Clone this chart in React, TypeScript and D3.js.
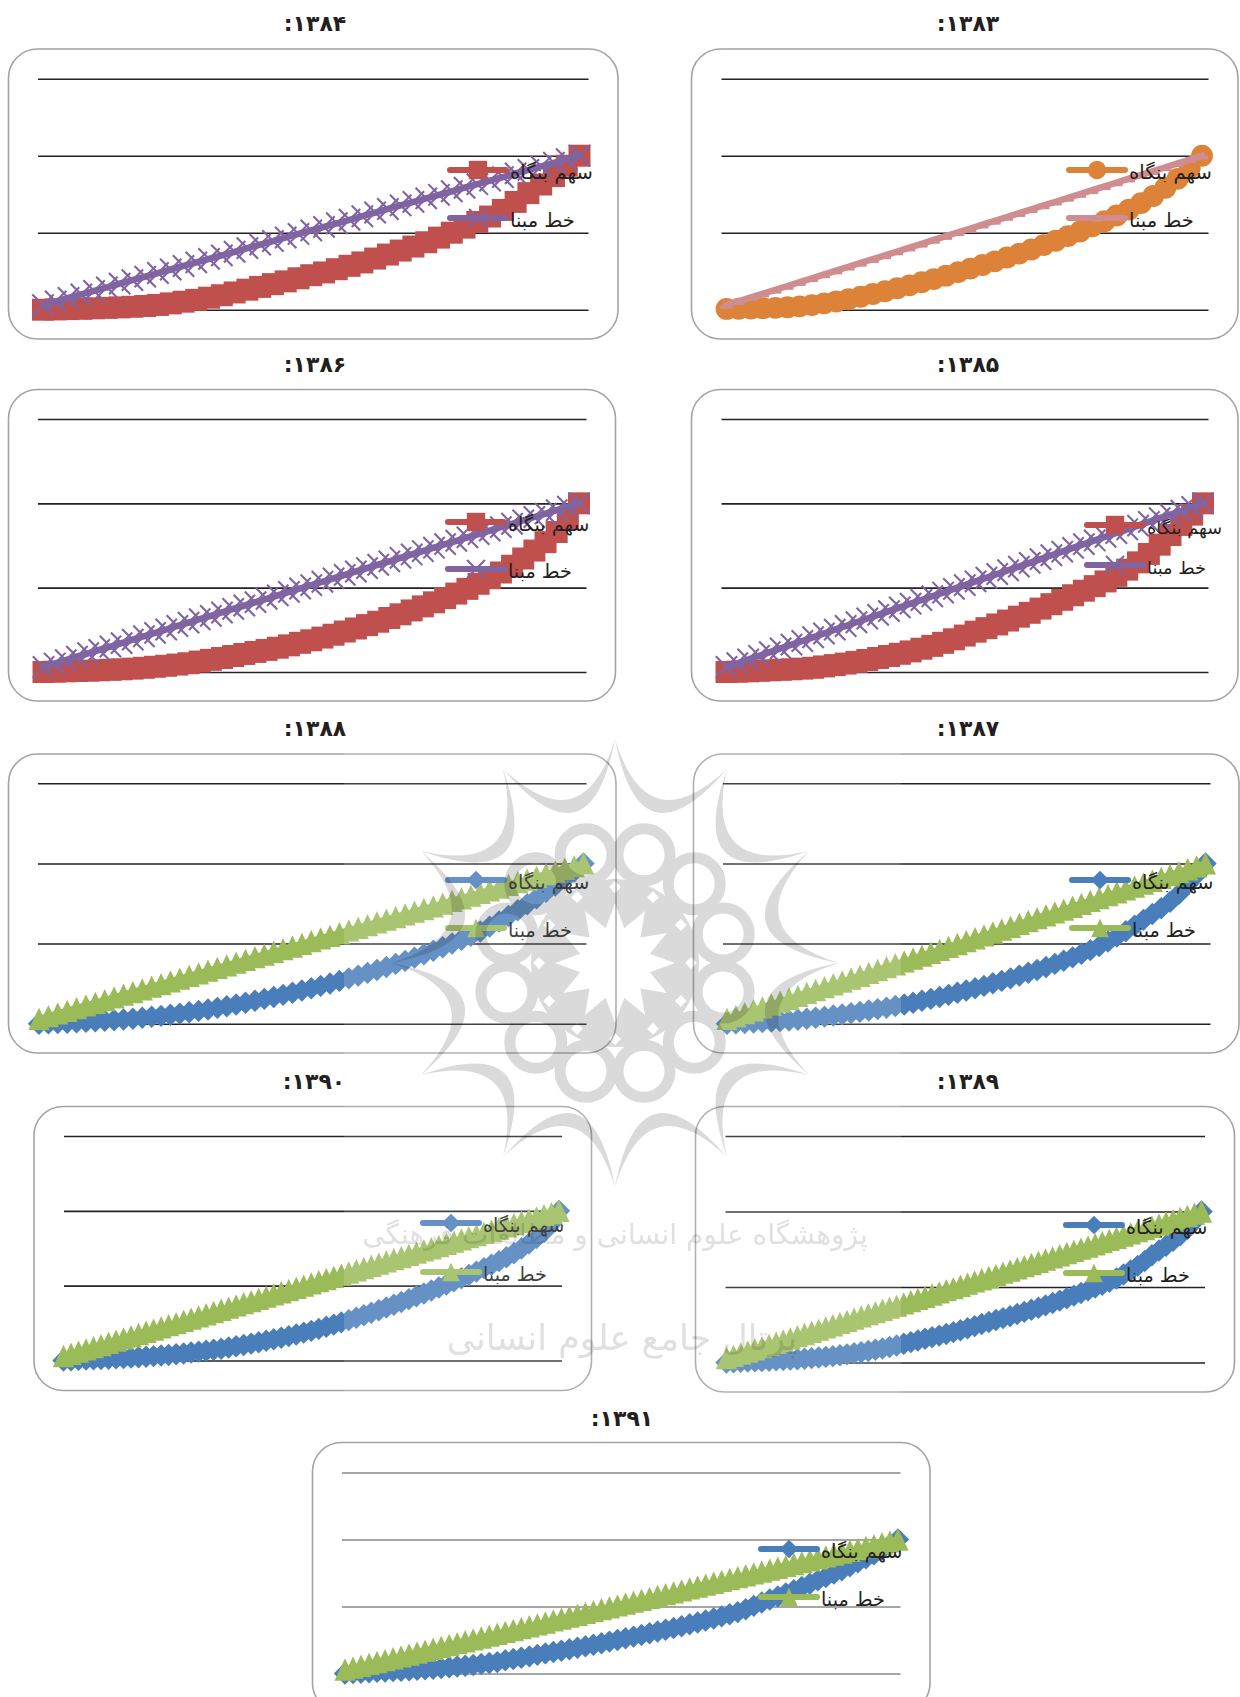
import React, { useRef, useEffect } from "react";
import * as d3 from "d3";

const seriesNames = ["سهم بنگاه", "خط مبنا"];
const gridValues = [0, 0.5, 1, 1.5];
const wmLines = ["پژوهشگاه علوم انسانی و مطالعات فرهنگی", "پرتال جامع علوم انسانی"];

const share1383 = [0.005,0.006,0.008,0.01,0.012,0.016,0.022,0.03,0.041,0.053,0.068,0.084,0.102,0.12,0.139,0.158,0.178,0.199,0.221,0.244,0.267,0.29,0.314,0.339,0.364,0.391,0.419,0.448,0.478,0.508,0.541,0.575,0.612,0.65,0.692,0.738,0.792,0.85,0.92,1];
const base1383 = [0.03,0.055,0.08,0.105,0.129,0.154,0.179,0.204,0.229,0.254,0.279,0.304,0.328,0.353,0.378,0.403,0.428,0.453,0.478,0.503,0.527,0.552,0.577,0.602,0.627,0.652,0.677,0.701,0.726,0.751,0.776,0.801,0.826,0.851,0.876,0.9,0.925,0.95,0.975,1];

const share1384 = [0,0.002,0.004,0.006,0.009,0.012,0.015,0.019,0.024,0.031,0.041,0.052,0.064,0.078,0.094,0.112,0.13,0.148,0.166,0.184,0.204,0.224,0.242,0.263,0.285,0.307,0.332,0.358,0.384,0.41,0.438,0.468,0.5,0.533,0.57,0.605,0.648,0.7,0.757,0.813,0.868,0.935,1];
const base1384 = [0.03,0.053,0.076,0.099,0.122,0.145,0.169,0.192,0.215,0.238,0.261,0.284,0.307,0.33,0.353,0.376,0.4,0.423,0.446,0.469,0.492,0.515,0.538,0.561,0.584,0.607,0.631,0.654,0.677,0.7,0.723,0.746,0.769,0.792,0.815,0.838,0.861,0.885,0.908,0.931,0.954,0.977,1];

const share1385 = [0,0.002,0.004,0.007,0.01,0.013,0.016,0.02,0.025,0.033,0.041,0.05,0.06,0.071,0.083,0.095,0.108,0.122,0.138,0.155,0.173,0.194,0.216,0.239,0.26,0.282,0.305,0.328,0.351,0.376,0.402,0.428,0.455,0.482,0.509,0.537,0.57,0.607,0.65,0.7,0.755,0.812,0.872,0.933,1];
const base1385 = [0.03,0.052,0.074,0.096,0.118,0.14,0.162,0.184,0.206,0.228,0.251,0.273,0.295,0.317,0.339,0.361,0.383,0.405,0.427,0.449,0.471,0.493,0.515,0.537,0.559,0.581,0.603,0.625,0.647,0.669,0.692,0.714,0.736,0.758,0.78,0.802,0.824,0.846,0.868,0.89,0.912,0.934,0.956,0.978,1];

const share1386 = [0,0.002,0.004,0.006,0.008,0.01,0.013,0.016,0.02,0.025,0.031,0.037,0.044,0.052,0.062,0.072,0.083,0.095,0.107,0.119,0.131,0.144,0.158,0.173,0.188,0.204,0.221,0.24,0.258,0.278,0.298,0.32,0.342,0.365,0.389,0.413,0.438,0.465,0.493,0.523,0.556,0.59,0.63,0.673,0.72,0.77,0.83,0.91,1];
const base1386 = [0.03,0.05,0.07,0.091,0.111,0.131,0.151,0.171,0.192,0.212,0.232,0.252,0.273,0.293,0.313,0.333,0.353,0.374,0.394,0.414,0.434,0.454,0.475,0.495,0.515,0.535,0.555,0.576,0.596,0.616,0.636,0.656,0.677,0.697,0.717,0.737,0.758,0.778,0.798,0.818,0.838,0.859,0.879,0.899,0.919,0.939,0.96,0.98,1];

const share1387 = [0,0.002,0.004,0.007,0.01,0.013,0.016,0.02,0.025,0.031,0.037,0.044,0.051,0.058,0.066,0.074,0.082,0.091,0.1,0.11,0.12,0.131,0.143,0.155,0.167,0.18,0.193,0.207,0.221,0.236,0.252,0.267,0.283,0.3,0.318,0.335,0.354,0.373,0.393,0.414,0.436,0.459,0.484,0.513,0.544,0.577,0.612,0.648,0.684,0.72,0.76,0.81,0.87,0.93,1];
const base1387 = [0.03,0.048,0.066,0.084,0.102,0.12,0.138,0.156,0.174,0.192,0.21,0.228,0.246,0.263,0.281,0.299,0.317,0.335,0.353,0.371,0.389,0.407,0.425,0.443,0.461,0.479,0.497,0.515,0.533,0.551,0.569,0.587,0.605,0.623,0.641,0.659,0.677,0.695,0.712,0.73,0.748,0.766,0.784,0.802,0.82,0.838,0.856,0.874,0.892,0.91,0.928,0.946,0.964,0.982,1];

const share1388 = [0,0.002,0.004,0.006,0.009,0.012,0.015,0.018,0.022,0.026,0.031,0.037,0.043,0.049,0.056,0.063,0.071,0.08,0.089,0.099,0.109,0.12,0.131,0.143,0.155,0.167,0.18,0.193,0.207,0.221,0.236,0.251,0.267,0.283,0.3,0.317,0.335,0.354,0.373,0.392,0.412,0.433,0.455,0.477,0.5,0.524,0.549,0.575,0.606,0.638,0.672,0.708,0.745,0.783,0.823,0.862,0.905,0.95,1];
const base1388 = [0.03,0.047,0.064,0.08,0.097,0.114,0.13,0.147,0.164,0.181,0.197,0.214,0.231,0.247,0.264,0.281,0.298,0.314,0.331,0.348,0.364,0.381,0.398,0.415,0.431,0.448,0.465,0.482,0.498,0.515,0.532,0.548,0.565,0.582,0.599,0.615,0.632,0.649,0.666,0.682,0.699,0.716,0.732,0.749,0.766,0.783,0.799,0.816,0.833,0.849,0.866,0.883,0.9,0.916,0.933,0.95,0.967,0.983,1];

const share1389 = [0,0.002,0.004,0.006,0.008,0.01,0.012,0.014,0.016,0.019,0.022,0.025,0.029,0.033,0.037,0.042,0.048,0.054,0.061,0.068,0.076,0.084,0.093,0.103,0.113,0.124,0.135,0.146,0.157,0.168,0.178,0.189,0.201,0.214,0.227,0.241,0.255,0.268,0.281,0.294,0.307,0.321,0.335,0.349,0.363,0.378,0.394,0.41,0.426,0.443,0.46,0.478,0.496,0.515,0.535,0.556,0.583,0.61,0.64,0.672,0.71,0.742,0.773,0.806,0.843,0.885,0.935,1];
const base1389 = [0.03,0.044,0.059,0.073,0.088,0.102,0.117,0.131,0.146,0.16,0.175,0.189,0.204,0.218,0.233,0.247,0.262,0.276,0.291,0.305,0.32,0.334,0.349,0.363,0.377,0.392,0.406,0.421,0.435,0.45,0.464,0.479,0.493,0.508,0.522,0.537,0.551,0.566,0.58,0.595,0.609,0.624,0.638,0.652,0.667,0.682,0.696,0.71,0.725,0.739,0.754,0.768,0.783,0.797,0.812,0.826,0.841,0.855,0.87,0.884,0.899,0.913,0.928,0.942,0.957,0.971,0.986,1];

const share1390 = [0,0.002,0.004,0.006,0.008,0.01,0.012,0.014,0.016,0.019,0.022,0.025,0.029,0.033,0.037,0.042,0.047,0.053,0.059,0.065,0.072,0.079,0.087,0.095,0.104,0.113,0.122,0.132,0.142,0.152,0.163,0.174,0.186,0.198,0.211,0.225,0.24,0.255,0.27,0.286,0.302,0.319,0.336,0.354,0.372,0.391,0.41,0.429,0.448,0.468,0.488,0.508,0.529,0.55,0.572,0.594,0.617,0.64,0.664,0.69,0.717,0.748,0.781,0.818,0.86,0.915,1];
const base1390 = [0.03,0.045,0.059,0.074,0.089,0.103,0.118,0.133,0.148,0.162,0.177,0.192,0.206,0.221,0.236,0.25,0.265,0.28,0.295,0.309,0.324,0.339,0.353,0.368,0.383,0.397,0.412,0.427,0.442,0.456,0.471,0.486,0.5,0.515,0.53,0.544,0.559,0.574,0.588,0.603,0.618,0.633,0.647,0.662,0.677,0.691,0.706,0.721,0.736,0.75,0.765,0.78,0.794,0.809,0.824,0.838,0.853,0.868,0.882,0.897,0.912,0.927,0.941,0.956,0.971,0.985,1];

const share1391 = [0,0.003,0.006,0.009,0.012,0.015,0.018,0.021,0.024,0.028,0.032,0.036,0.041,0.046,0.052,0.058,0.064,0.071,0.078,0.085,0.099,0.108,0.118,0.128,0.139,0.15,0.16,0.17,0.181,0.192,0.203,0.214,0.226,0.238,0.25,0.263,0.275,0.287,0.3,0.313,0.326,0.339,0.353,0.367,0.381,0.396,0.411,0.426,0.442,0.458,0.48,0.505,0.53,0.552,0.575,0.598,0.621,0.645,0.67,0.695,0.72,0.745,0.77,0.8,0.83,0.86,0.89,0.925,0.96,1];
const base1391 = [0.03,0.044,0.058,0.072,0.086,0.1,0.114,0.128,0.142,0.157,0.171,0.185,0.199,0.213,0.227,0.241,0.255,0.269,0.283,0.297,0.311,0.325,0.339,0.353,0.367,0.381,0.396,0.41,0.424,0.438,0.452,0.466,0.48,0.494,0.508,0.522,0.536,0.55,0.564,0.578,0.592,0.606,0.62,0.635,0.649,0.663,0.677,0.691,0.705,0.719,0.733,0.747,0.761,0.775,0.789,0.803,0.817,0.831,0.845,0.859,0.874,0.888,0.902,0.916,0.93,0.944,0.958,0.972,0.986,1];

// custom marker: the tall triangle the original chart uses
const tallTriangle = {
  draw(context: any, size: number) {
    const r = Math.sqrt(size) / 2;
    context.moveTo(0, -r);
    context.lineTo(r * 0.95, r);
    context.lineTo(-r * 0.95, r);
    context.closePath();
  },
};
// dash marker sits a little under the line
const dashMarker = {
  draw(context: any, size: number) {
    const r = Math.sqrt(size) / 2;
    context.rect(-r, 0, 2 * r, 3.8);
  },
};

const circleStyle = { color: "#dd8339", shape: d3.symbolCircle, size: 375, open: false };
const squareStyle = { color: "#c0504d", shape: d3.symbolSquare, size: 484, open: false };
const diamondStyle = { color: "#4a7ebb", shape: d3.symbolDiamond2, size: 320, open: false };
const pinkStyle = { color: "#cf8d8f", shape: dashMarker, size: 144, open: false };
const crossStyle = { color: "#8064a2", shape: d3.symbolTimes, size: 300, open: true };
const triangleStyle = { color: "#9bbb59", shape: tallTriangle, size: 500, open: false };

const panels = [
  { title: "۱۳۸۳:", tx: 968, ty: 31, box: [691.5, 49, 1238, 339], grid: [721.5, 1208.5], lines: [78.7, 309.7], data: [726.5, 1202], legend: [1069, 170, 218], legendFont: 19.5, share: share1383, base: base1383, a: circleStyle, b: pinkStyle, gridColor: "#222" },
  { title: "۱۳۸۴:", tx: 315, ty: 31, box: [8.5, 49, 618, 339], grid: [38, 588.5], lines: [78.7, 309.7], data: [43, 579.5], legend: [450, 170, 218], legendFont: 19.5, share: share1384, base: base1384, a: squareStyle, b: crossStyle, gridColor: "#222" },
  { title: "۱۳۸۵:", tx: 968, ty: 372, box: [691.5, 389.5, 1238, 701], grid: [721.5, 1208.5], lines: [419, 672], data: [726.5, 1203], legend: [1087, 525, 565], legendFont: 17.7, share: share1385, base: base1385, a: squareStyle, b: crossStyle, gridColor: "#222" },
  { title: "۱۳۸۶:", tx: 315, ty: 372, box: [8.5, 389.5, 615.5, 701], grid: [38, 586.5], lines: [419, 672], data: [43.5, 579], legend: [448, 522, 569], legendFont: 19.2, share: share1386, base: base1386, a: squareStyle, b: crossStyle, gridColor: "#222" },
  { title: "۱۳۸۷:", tx: 968, ty: 736, box: [693.5, 754, 1239, 1053], grid: [723, 1210.5], lines: [783.3, 1023.7], data: [727, 1205.5], legend: [1072, 880, 928], legendFont: 19.2, share: share1387, base: base1387, a: diamondStyle, b: triangleStyle, gridColor: "#222" },
  { title: "۱۳۸۸:", tx: 315, ty: 736, box: [8.5, 754, 616, 1053], grid: [38, 586.5], lines: [783.3, 1023.7], data: [39, 583.5], legend: [448, 880, 928], legendFont: 19.2, share: share1388, base: base1388, a: diamondStyle, b: triangleStyle, gridColor: "#222" },
  { title: "۱۳۸۹:", tx: 968, ty: 1089, box: [695.5, 1106.5, 1234.5, 1392], grid: [725.5, 1205], lines: [1136, 1362.5], data: [726.5, 1201.5], legend: [1066, 1225, 1273], legendFont: 19.2, share: share1389, base: base1389, a: diamondStyle, b: triangleStyle, gridColor: "#222" },
  { title: "۱۳۹۰:", tx: 314, ty: 1089, box: [34, 1106.5, 591.5, 1390.5], grid: [64, 562], lines: [1136, 1360.5], data: [63.5, 559], legend: [423, 1223, 1272], legendFont: 19.2, share: share1390, base: base1390, a: diamondStyle, b: triangleStyle, gridColor: "#222" },
  { title: "۱۳۹۱:", tx: 622, ty: 1426, box: [312.5, 1442.5, 930, 1712], grid: [342, 900.5], lines: [1472.5, 1673.5], data: [345, 898], legend: [761, 1549, 1597], legendFont: 19.2, share: share1391, base: base1391, a: diamondStyle, b: triangleStyle, gridColor: "#a6a6a6" },
];

type Panel = (typeof panels)[number];

const drawSeries = (g: any, x: any, y: any, values: number[], style: any) => {
  const line = d3
    .line<number>()
    .x((_, i) => x(i))
    .y((d) => y(d));
  g.append("path")
    .attr("d", line(values))
    .attr("fill", "none")
    .attr("stroke", style.color)
    .attr("stroke-width", 6.5)
    .attr("stroke-linecap", "round")
    .attr("stroke-linejoin", "round");
  const symbol = d3.symbol().type(style.shape).size(style.size);
  g.selectAll(null)
    .data(values)
    .enter()
    .append("path")
    .attr("d", symbol())
    .attr("transform", (d: number, i: number) => `translate(${x(i)},${y(d)})`)
    .attr("fill", style.open ? "none" : style.color)
    .attr("stroke", style.open ? style.color : "none")
    .attr("stroke-width", 2.1);
};

const drawLegendRow = (g: any, left: number, rowY: number, label: string, style: any, fontSize: number) => {
  g.append("line")
    .attr("x1", left)
    .attr("x2", left + 56)
    .attr("y1", rowY)
    .attr("y2", rowY)
    .attr("stroke", style.color)
    .attr("stroke-width", 6)
    .attr("stroke-linecap", "round");
  g.append("path")
    .attr("d", d3.symbol().type(style.shape).size(style.size * 0.7)())
    .attr("transform", `translate(${left + 28},${rowY})`)
    .attr("fill", style.open ? "none" : style.color)
    .attr("stroke", style.open ? style.color : "none")
    .attr("stroke-width", 2.1);
  g.append("text")
    .attr("x", left + 60)
    .attr("y", rowY + 9)
    .attr("direction", "ltr")
    .attr("font-family", "DejaVu Sans")
    .attr("font-size", fontSize)
    .attr("fill", "#231f20")
    .text(label);
};

const ChartPanel: React.FC<{ panel: Panel }> = ({ panel }) => {
  const gRef = useRef<SVGGElement>(null);

  useEffect(() => {
    if (!gRef.current) return;
    const g = d3.select(gRef.current);
    g.selectAll("*").remove();

    const [bx0, by0, bx1, by1] = panel.box;
    g.append("rect")
      .attr("x", bx0)
      .attr("y", by0)
      .attr("width", bx1 - bx0)
      .attr("height", by1 - by0)
      .attr("rx", 29)
      .attr("fill", "#fff")
      .attr("stroke", "#a3a3a3")
      .attr("stroke-width", 1.6);

    g.append("text")
      .attr("x", panel.tx)
      .attr("y", panel.ty)
      .attr("text-anchor", "middle")
      .attr("direction", "rtl")
      .attr("font-family", "DejaVu Sans")
      .attr("font-weight", "bold")
      .attr("font-size", 22)
      .attr("fill", "#231f20")
      .text(panel.title);

    const y = d3.scaleLinear().domain([0, 1.5]).range([panel.lines[1], panel.lines[0]]);
    const x = d3.scaleLinear().domain([0, panel.share.length - 1]).range(panel.data);

    // horizontal gridlines only, no axis labels in the original
    const axis = g
      .append("g")
      .attr("transform", `translate(${panel.grid[0]},0)`)
      .call(
        d3
          .axisLeft(y)
          .tickValues(gridValues)
          .tickSize(-(panel.grid[1] - panel.grid[0]))
          .tickFormat(() => "")
      );
    axis.select(".domain").remove();
    axis
      .selectAll("line")
      .attr("stroke", panel.gridColor)
      .attr("stroke-width", panel.gridColor === "#222" ? 1.6 : 2);

    drawSeries(g, x, y, panel.share, panel.a);
    drawSeries(g, x, y, panel.base, panel.b);

    const [left, row1, row2] = panel.legend;
    drawLegendRow(g, left, row1, seriesNames[0], panel.a, panel.legendFont);
    drawLegendRow(g, left, row2, seriesNames[1], panel.b, panel.legendFont);
  }, [panel]);

  return <g ref={gRef} />;
};

// site watermark laid over the charts
const Watermark: React.FC = () => {
  const gRef = useRef<SVGGElement>(null);

  useEffect(() => {
    if (!gRef.current) return;
    const g = d3.select(gRef.current);
    g.selectAll("*").remove();
    const ink = "#dadada";
    const cx = 615;
    const cy = 963;
    const polar = (r: number, deg: number) => [
      cx + r * Math.cos((deg * Math.PI) / 180),
      cy + r * Math.sin((deg * Math.PI) / 180),
    ];

    g.append("circle").attr("cx", cx).attr("cy", cy).attr("r", 84).attr("fill", ink);

    d3.range(12).forEach((k) => {
      const a = k * 30;
      const tip1 = polar(224, a);
      const tip2 = polar(224, a + 30);
      const inner = polar(96, a + 15);
      const outer = polar(124, a + 15);
      // scallop tapers to nothing at both spike tips
      const p = d3.path();
      p.moveTo(tip1[0], tip1[1]);
      p.quadraticCurveTo(inner[0], inner[1], tip2[0], tip2[1]);
      p.quadraticCurveTo(outer[0], outer[1], tip1[0], tip1[1]);
      p.closePath();
      g.append("path").attr("d", p.toString()).attr("fill", ink);

      const c = polar(112, a + 15);
      g.append("circle")
        .attr("cx", c[0])
        .attr("cy", c[1])
        .attr("r", 26)
        .attr("fill", "none")
        .attr("stroke", ink)
        .attr("stroke-width", 11);

      const d = polar(76, a);
      g.append("path")
        .attr("d", d3.symbol().type(d3.symbolDiamond2).size(90)())
        .attr("transform", `translate(${d[0]},${d[1]})`)
        .attr("fill", "#fff");
    });

    const star = d3
      .lineRadial<number>()
      .angle((_, i) => (i * Math.PI) / 12)
      .radius((_, i) => (i % 2 ? 36 : 60))
      .curve(d3.curveLinearClosed);
    g.append("path")
      .attr("d", star(d3.range(24)))
      .attr("transform", `translate(${cx},${cy})`)
      .attr("fill", "#fff");

    g.append("text")
      .attr("x", 615)
      .attr("y", 1244)
      .attr("text-anchor", "middle")
      .attr("direction", "rtl")
      .attr("font-family", "DejaVu Sans")
      .attr("font-size", 28)
      .attr("fill", "#e0e0e0")
      .text(wmLines[0]);
    g.append("text")
      .attr("x", 622)
      .attr("y", 1350)
      .attr("text-anchor", "middle")
      .attr("direction", "rtl")
      .attr("font-family", "DejaVu Sans")
      .attr("font-size", 35)
      .attr("fill", "#e0e0e0")
      .text(wmLines[1]);
  }, []);

  return <g ref={gRef} style={{ mixBlendMode: "multiply" }} />;
};

export default function App() {
  return (
    <svg
      width={1240}
      height={1697}
      style={{ position: "absolute", left: 0, top: 0, display: "block", background: "#fff" }}
    >
      {panels.map((p) => (
        <ChartPanel key={p.title} panel={p} />
      ))}
      <rect x={344} y={735} width={557} height={670} fill="#fff" fillOpacity={0.15} />
      <Watermark />
    </svg>
  );
}
